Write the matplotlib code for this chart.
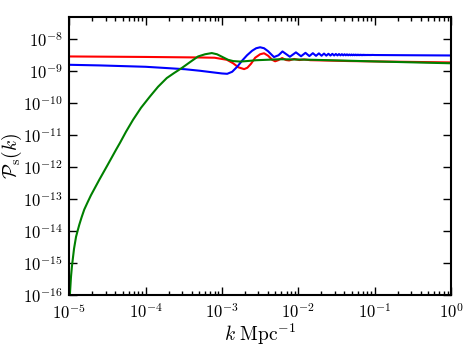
import numpy as np
import matplotlib
matplotlib.use('Agg')
import matplotlib.pyplot as plt
from matplotlib.ticker import LogLocator, NullLocator

# values, k in Mpc^-1, P in units of 1e-9 (green in absolute units)
red_k = [1e-5, 1e-4, 5e-4, 8e-4, 1.16e-3, 1.40e-3, 1.64e-3, 1.95e-3, 2.15e-3, 2.40e-3,
         2.72e-3, 3.16e-3, 3.56e-3, 4.02e-3, 4.54e-3, 4.97e-3, 5.43e-3, 6.13e-3, 6.92e-3,
         7.58e-3, 8.82e-3, 1.03e-2, 1.19e-2, 1.43e-2, 4.78e-2, 1.0]
red_p = [2.86, 2.76, 2.66, 2.61, 2.25, 1.75, 1.31, 1.15, 1.27, 1.69,
         2.61, 3.35, 3.60, 3.01, 2.25, 2.02, 2.18, 2.55, 2.21,
         2.15, 2.39, 2.21, 2.31, 2.19, 2.05, 1.86]

green_k = [1.0e-5, 1.021e-5, 1.052e-5, 1.08e-5, 1.108e-5, 1.153e-5, 1.225e-5, 1.29e-5,
           1.352e-5, 1.45e-5, 1.57e-5, 1.74e-5, 1.92e-5, 2.18e-5, 2.47e-5, 3.18e-5,
           4.09e-5, 4.62e-5, 5.53e-5, 6.84e-5, 8.70e-5,
           1.14e-4, 1.454e-4, 1.89e-4, 2.355e-4, 2.97e-4, 3.82e-4, 4.86e-4, 6.0e-4,
           7.35e-4, 8.6e-4, 1.03e-3, 1.20e-3, 1.40e-3, 1.73e-3, 2.11e-3, 2.80e-3,
           3.86e-3, 5.77e-3, 1.56e-2, 0.118, 1.0]
green_p = [3e-17, 1.17e-16, 3.7e-16, 7.5e-16, 1.26e-15, 2.80e-15, 6.6e-15, 1.05e-14,
           1.58e-14, 2.7e-14, 4.7e-14, 8.0e-14, 1.31e-13, 2.3e-13, 4.0e-13, 1.17e-12,
           3.46e-12, 5.75e-12, 1.27e-11, 3.0e-11, 7.13e-11,
           1.61e-10, 3.23e-10, 6.04e-10, 8.66e-10, 1.24e-9, 1.91e-9, 2.86e-9, 3.35e-9,
           3.65e-9, 3.35e-9, 2.70e-9, 2.25e-9, 2.05e-9, 1.98e-9, 2.05e-9, 2.18e-9,
           2.25e-9, 2.34e-9, 2.25e-9, 1.98e-9, 1.75e-9]

blue_k = [1e-5, 2.52e-5, 1e-4, 1.89e-4, 3.29e-4, 5.17e-4, 7.41e-4, 1.0e-3, 1.17e-3,
          1.36e-3, 1.58e-3, 1.83e-3, 2.13e-3, 2.48e-3, 2.80e-3, 3.16e-3, 3.56e-3,
          4.02e-3, 4.47e-3, 4.80e-3, 5.50e-3, 6.2e-3,
          0.00775, 0.0093, 0.01085, 0.0124, 0.01395, 0.0155, 0.01705, 0.0186,
          0.02015, 0.0217, 0.02325, 0.0248, 0.02635, 0.0279, 0.02945, 0.031,
          0.03255, 0.0341, 0.03565, 0.0372, 0.03875, 0.0403, 0.04185, 0.0434,
          0.04495, 0.0465, 0.04805, 0.0496, 0.05115, 0.0527, 0.05425, 0.0558,
          0.05735, 0.0589, 0.06045, 0.062, 0.06355, 0.0651, 0.06665, 0.0682,
          0.06975, 0.0713, 0.07285, 0.0744, 0.07595, 0.0775, 0.07905, 0.0806,
          0.08215, 0.0837, 0.08525, 0.0868, 0.08835, 0.0899, 0.09145, 0.093,
          0.1, 0.3, 1.0]
blue_p = [1.57, 1.50, 1.36, 1.24, 1.14, 1.02, 0.917, 0.841, 0.82,
          0.95, 1.36, 2.10, 3.12, 4.31, 5.16, 5.54, 5.16,
          4.16, 3.23, 2.74, 3.12, 4.10,
          2.80, 3.84, 2.90, 3.71, 2.94, 3.62, 2.99, 3.57,
          3.01, 3.52, 3.03, 3.47, 3.05, 3.45, 3.07, 3.42,
          3.08, 3.40, 3.09, 3.37, 3.09, 3.35, 3.10, 3.33,
          3.10, 3.30, 3.11, 3.29, 3.11, 3.28, 3.12, 3.27,
          3.12, 3.26, 3.12, 3.25, 3.13, 3.24, 3.13, 3.23,
          3.13, 3.225, 3.14, 3.22, 3.14, 3.21, 3.14, 3.21,
          3.15, 3.205, 3.15, 3.20, 3.15, 3.20, 3.16, 3.195,
          3.17, 3.12, 3.07]

plt.rcParams['mathtext.fontset'] = 'cm'
plt.rcParams['font.family'] = 'serif'
plt.rcParams['font.serif'] = ['cmr10', 'DejaVu Serif']
plt.rcParams['axes.formatter.use_mathtext'] = True

fig = plt.figure(figsize=(4.63, 3.48), dpi=100)
ax = fig.add_axes([0.1497, 0.1523, 0.8244, 0.7997])

ax.plot(red_k, np.array(red_p) * 1e-9, color='r', lw=1.5)
ax.plot(blue_k, np.array(blue_p) * 1e-9, color='b', lw=1.5)
ax.plot(green_k, green_p, color='g', lw=1.5)

ax.set_xscale('log')
ax.set_yscale('log')
ax.set_xlim(1e-5, 1)
ax.set_ylim(1e-16, 5e-8)
ax.yaxis.set_major_locator(LogLocator(base=10, numticks=20))
ax.yaxis.set_minor_locator(NullLocator())
ax.xaxis.set_major_locator(LogLocator(base=10, numticks=20))
ax.xaxis.set_minor_locator(LogLocator(base=10, subs=np.arange(2, 10), numticks=20))

ax.tick_params(which='both', direction='in', top=True, right=True, labelsize=12)
ax.tick_params(which='major', length=5.5, width=1, pad=5)
ax.tick_params(which='minor', length=2.8, width=1)
for s in ax.spines.values():
    s.set_linewidth(1.5)

ax.set_xlabel(r'$k\ {\rm Mpc}^{-1}$', fontsize=14, labelpad=0)
ax.set_ylabel(r'$\mathcal{P}_{\rm s}(k)$', fontsize=14)
ax.yaxis.set_label_coords(-0.12, 0.5)

fig.savefig('out.png', dpi=100)
